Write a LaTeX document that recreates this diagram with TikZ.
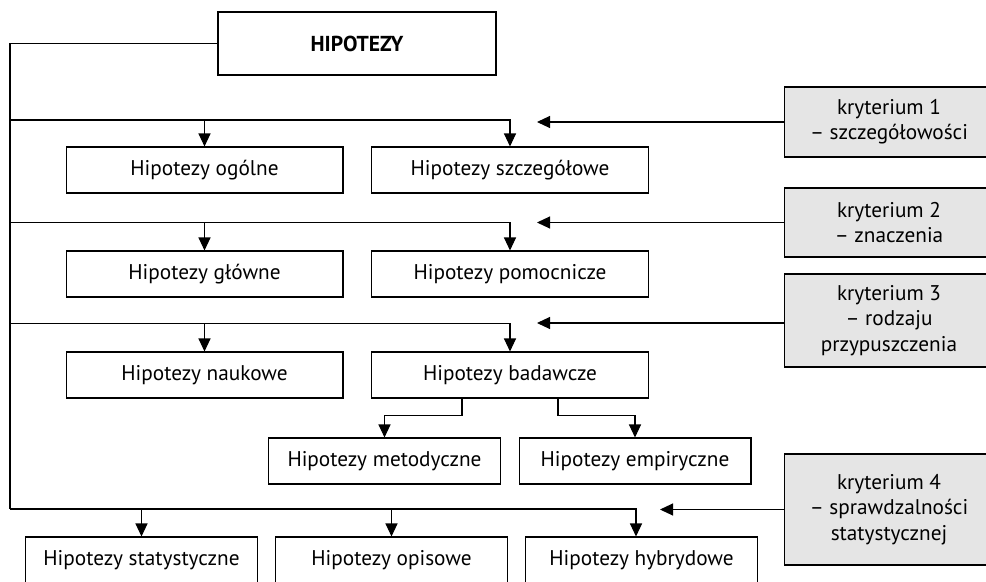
\documentclass[tikz,border=0pt]{standalone}
\usepackage{fontspec}
\setmainfont{PT Sans}
\usepackage{tikz}
\usetikzlibrary{arrows.meta,positioning}

\begin{document}
\begin{tikzpicture}[x=0.02cm, y=-0.02cm,
        line width=0.6pt,
        hbox/.style={draw, fill=white, minimum width=5.54cm, minimum height=0.92cm, inner sep=0pt, font=\fontsize{12.1}{14}\selectfont},
        sbox/.style={hbox, minimum width=4.64cm},
        kbox/.style={draw, fill=gray!20, minimum width=4.2cm, inner sep=0pt, align=center, font=\fontsize{12.1}{14.4}\selectfont},
        arr/.style={-{Triangle[width=0.24cm, length=0.26cm]}}]
        \useasboundingbox (0,0) rectangle (986,581);

        % Main node
        \node[draw, line width=1.2pt, minimum width=5.56cm, minimum height=1.26cm, font=\fontsize{12.3}{14}\selectfont\bfseries] (hip) at (357,43.5) {HIPOTEZY};

        % Hypothesis boxes
        \node[hbox] (ogolne) at (204.5,170) {Hipotezy ogólne};
        \node[hbox] (szczeg) at (510,170) {Hipotezy szczegółowe};
        \node[hbox] (glowne) at (204.5,274) {Hipotezy główne};
        \node[hbox] (pomoc) at (510,274) {Hipotezy pomocnicze};
        \node[hbox] (nauk) at (204.5,375) {Hipotezy naukowe};
        \node[hbox] (badaw) at (510,375) {Hipotezy badawcze};
        \node[sbox] (metod) at (384.5,461) {Hipotezy metodyczne};
        \node[sbox] (empir) at (635,461) {Hipotezy empiryczne};
        \node[sbox] (statyst) at (141.5,560) {Hipotezy statystyczne};
        \node[sbox] (opis) at (391.5,560) {Hipotezy opisowe};
        \node[sbox] (hybr) at (641.5,560) {Hipotezy hybrydowe};

        % Criteria
        \node[kbox, minimum height=1.4cm] (k1) at (889,122) {kryterium 1\\– szczegółowości};
        \node[kbox, minimum height=1.38cm] (k2) at (889,222.5) {kryterium 2\\– znaczenia};
        \node[kbox, minimum height=1.86cm] (k3) at (889,320.5) {kryterium 3\\– rodzaju\\przypuszczenia};
        \node[kbox, minimum height=2.22cm] (k4) at (889,509.5) {kryterium 4\\– sprawdzalności\\statystycznej};

        % Branch lines
        \coordinate (l1) at (10,120);
        \coordinate (l2) at (10,222.5);
        \coordinate (l3) at (10,323.5);
        \coordinate (l4) at (10,509);
        \draw (hip.west) -| (l4);
        \draw[arr] (l1) -| (szczeg);
        \draw[arr] (ogolne.north |- l1) -- (ogolne);
        \draw[arr] (l2) -| (pomoc);
        \draw[arr] (glowne.north |- l2) -- (glowne);
        \draw[arr] (l3) -| (badaw);
        \draw[arr] (nauk.north |- l3) -- (nauk);
        \draw[arr] ([xshift=-0.96cm]badaw.south) -- ++(0,17) -| (metod);
        \draw[arr] ([xshift=0.96cm]badaw.south) -- ++(0,17) -| (empir);
        \draw[arr] (l4) -| ([xshift=-0.11cm]hybr.north);
        \draw[arr] (statyst.north |- l4) -- (statyst);
        \draw[arr] (opis.north |- l4) -- (opis);

        % Criteria arrows
        \coordinate (t1) at (537,122);
        \coordinate (t2) at (537,222.5);
        \coordinate (t3) at (537,323);
        \coordinate (t4) at (660,509.5);
        \draw[arr] (k1) -- (t1);
        \draw[arr] (k2) -- (t2);
        \draw[arr] (k3.west |- t3) -- (t3);
        \draw[arr] (k4) -- (t4);
\end{tikzpicture}
\end{document}
